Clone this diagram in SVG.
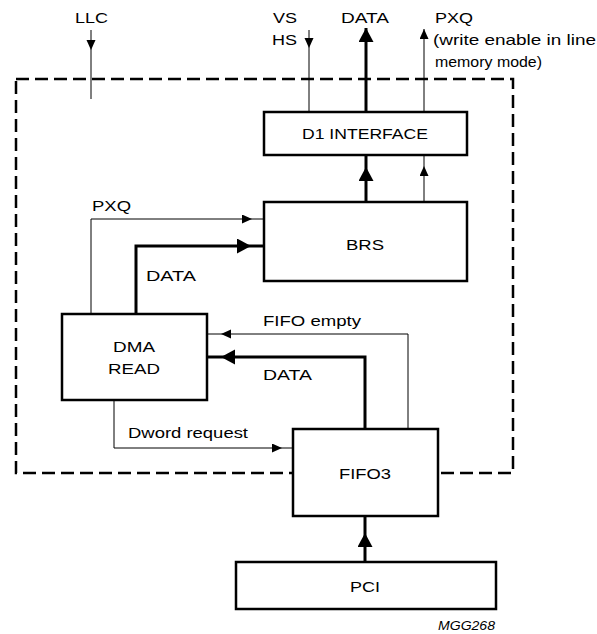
<svg xmlns="http://www.w3.org/2000/svg" width="597" height="634" viewBox="0 0 597 634">
<style>
text{font-family:"Liberation Sans",Arial,sans-serif;font-size:15px;fill:#000}
.box{fill:#fff;stroke:#000;stroke-width:2.5}
.thin{fill:none;stroke:#000;stroke-width:1}
.thick{fill:none;stroke:#000;stroke-width:3}
.dash{fill:none;stroke:#000;stroke-width:2.5;stroke-dasharray:13 6}
</style>
<defs>
<marker id="at" markerUnits="userSpaceOnUse" markerWidth="11" markerHeight="10" refX="10" refY="4.5" orient="auto"><path d="M0,0 L10,4.5 L0,9 z" fill="#000"/></marker>
<marker id="ak" markerUnits="userSpaceOnUse" markerWidth="15" markerHeight="16" refX="14" refY="7.5" orient="auto"><path d="M0,0 L14,7.5 L0,15 z" fill="#000"/></marker>
</defs>
<rect class="dash" x="16" y="79" width="497" height="394"/>
<g id="connectors">
<path class="thin" d="M91,30 V50" marker-end="url(#at)"/><path class="thin" d="M91,50 V99"/>
<path class="thin" d="M309,30 V48" marker-end="url(#at)"/><path class="thin" d="M309,48 V112"/>
<path class="thick" d="M366,112 V28" marker-end="url(#ak)"/>
<path class="thin" d="M424,112 V29" marker-end="url(#at)"/>
<path class="thick" d="M366,202 V167" marker-end="url(#ak)"/><path class="thick" d="M366,167 V155"/>
<path class="thin" d="M424,202 V166" marker-end="url(#at)"/><path class="thin" d="M424,166 V155"/>
<path class="thin" d="M91,314 V219 H252" marker-end="url(#at)"/><path class="thin" d="M252,219 H264"/>
<path class="thick" d="M136,314 V246 H251" marker-end="url(#ak)"/><path class="thick" d="M251,246 H264"/>
<path class="thin" d="M408,429 V334 H221" marker-end="url(#at)"/><path class="thin" d="M221,334 H207"/>
<path class="thick" d="M365,429 V357 H221" marker-end="url(#ak)"/><path class="thick" d="M221,357 H207"/>
<path class="thin" d="M114,400 V448 H282" marker-end="url(#at)"/><path class="thin" d="M282,448 H293"/>
<path class="thick" d="M365,562 V533" marker-end="url(#ak)"/><path class="thick" d="M365,533 V516"/>
</g>
<g id="labels">
<text x="75" y="23" textLength="33" lengthAdjust="spacingAndGlyphs">LLC</text>
<text x="273" y="23" textLength="24" lengthAdjust="spacingAndGlyphs">VS</text>
<text x="272" y="45" textLength="25" lengthAdjust="spacingAndGlyphs">HS</text>
<text x="341" y="23" textLength="48" lengthAdjust="spacingAndGlyphs">DATA</text>
<text x="435" y="23" textLength="38" lengthAdjust="spacingAndGlyphs">PXQ</text>
<text x="433" y="45" textLength="163" lengthAdjust="spacingAndGlyphs">(write enable in line</text>
<text x="435" y="67" textLength="107" lengthAdjust="spacingAndGlyphs">memory mode)</text>
<text x="92" y="211" textLength="39" lengthAdjust="spacingAndGlyphs">PXQ</text>
<text x="146" y="281" textLength="50" lengthAdjust="spacingAndGlyphs">DATA</text>
<text x="263" y="326" textLength="98" lengthAdjust="spacingAndGlyphs">FIFO empty</text>
<text x="263" y="380" textLength="49" lengthAdjust="spacingAndGlyphs">DATA</text>
<text x="128" y="438" textLength="120" lengthAdjust="spacingAndGlyphs">Dword request</text>
<text x="438" y="630" textLength="57" lengthAdjust="spacingAndGlyphs" style="font-size:13px;font-style:italic">MGG268</text>
</g>
<g id="d1"><rect class="box" x="264" y="112" width="203" height="43"/><text x="302" y="139" textLength="126" lengthAdjust="spacingAndGlyphs">D1 INTERFACE</text></g>
<g id="brs"><rect class="box" x="264" y="202" width="203" height="79"/><text x="346" y="250" textLength="38" lengthAdjust="spacingAndGlyphs">BRS</text></g>
<g id="dma"><rect class="box" x="62" y="314" width="145" height="86"/><text x="113" y="352" textLength="42" lengthAdjust="spacingAndGlyphs">DMA</text><text x="108" y="374" textLength="52" lengthAdjust="spacingAndGlyphs">READ</text></g>
<g id="fifo3"><rect class="box" x="293" y="429" width="145" height="87"/><text x="339" y="479" textLength="52" lengthAdjust="spacingAndGlyphs">FIFO3</text></g>
<g id="pci"><rect class="box" x="236" y="562" width="260" height="47"/><text x="350" y="592" textLength="30" lengthAdjust="spacingAndGlyphs">PCI</text></g>
</svg>
